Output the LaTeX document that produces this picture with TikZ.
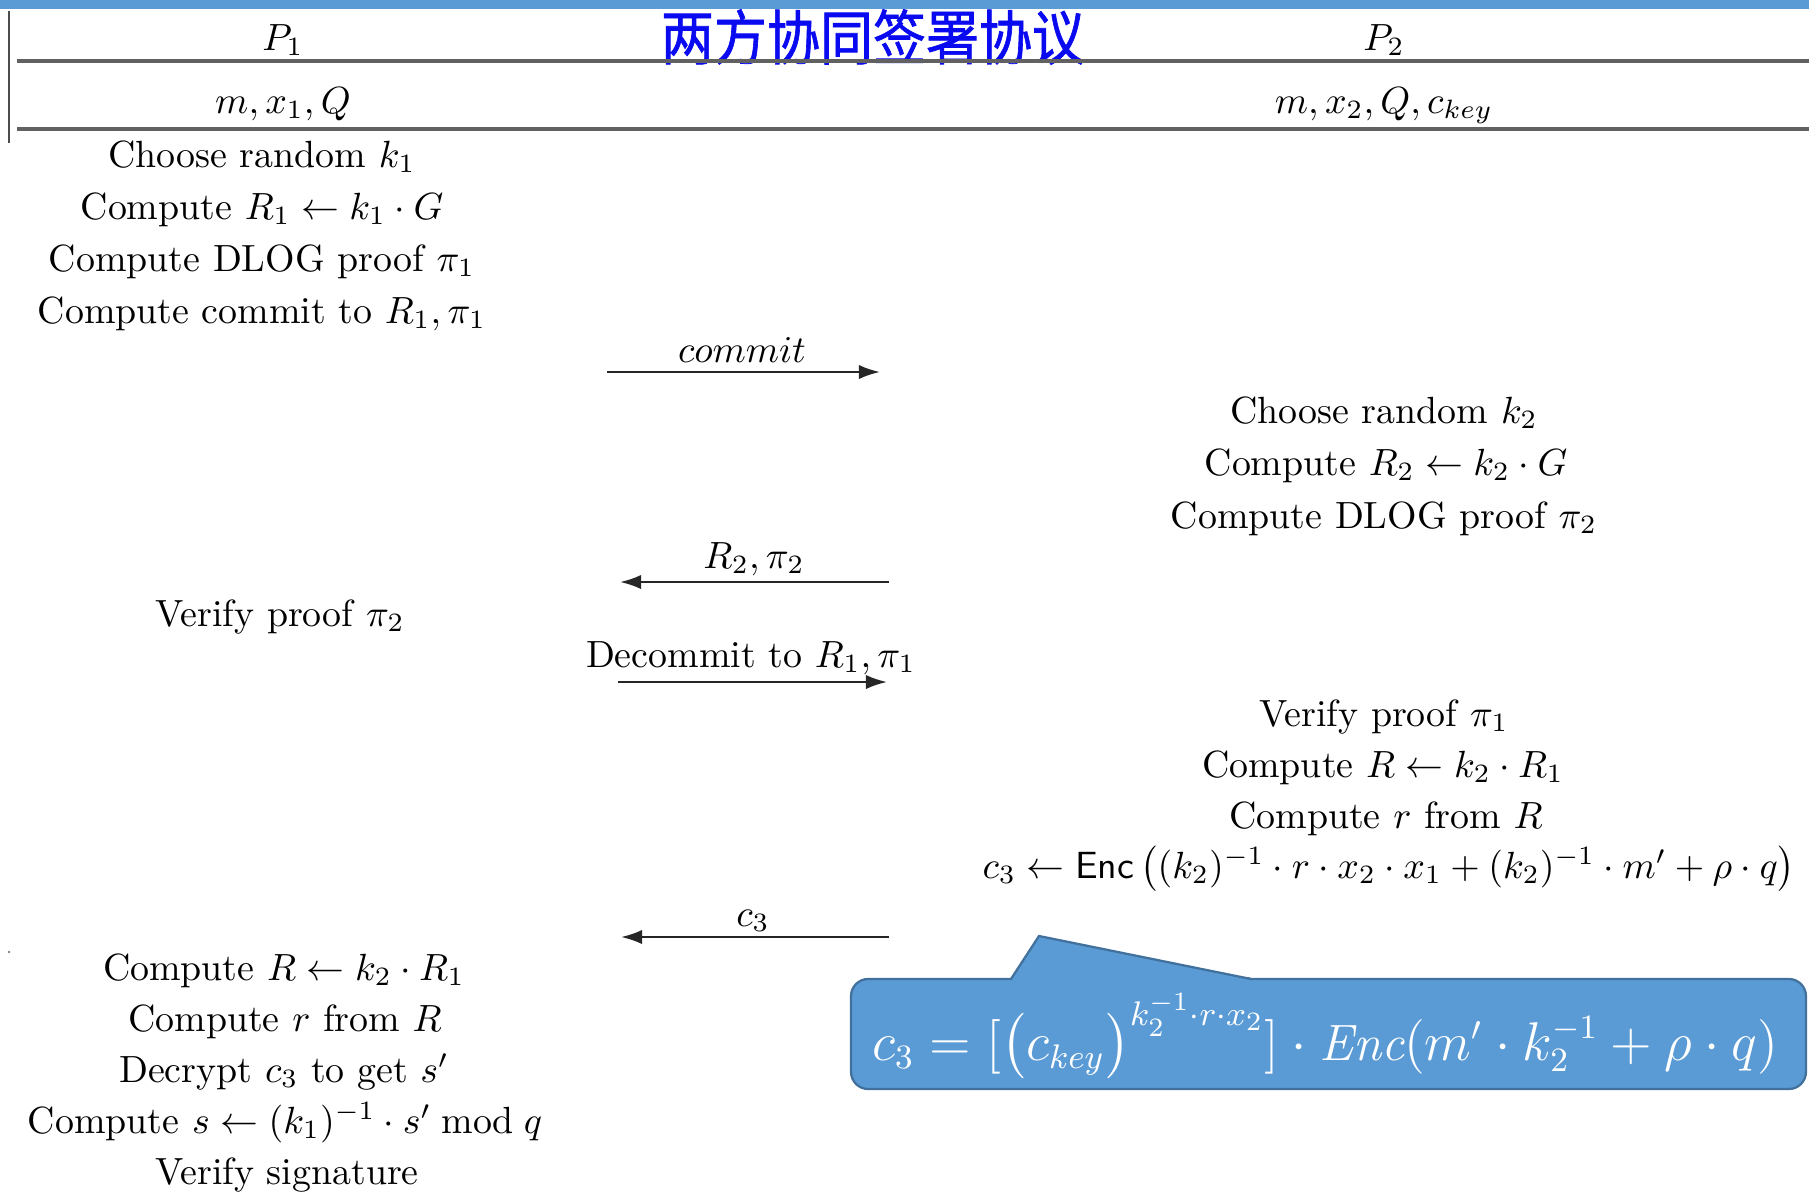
\documentclass[tikz,border=0pt]{standalone}
\usepackage{amsmath}
\usepackage{graphicx}
\usepackage{fontspec}
\usetikzlibrary{arrows.meta}
\newfontfamily\cjk[FakeBold=1.2]{Noto Sans CJK SC}
\definecolor{barblue}{HTML}{5B9BD5}
\definecolor{bubbleedge}{HTML}{41719C}
\definecolor{titleblue}{HTML}{0A0AF0}
\begin{document}
\begin{tikzpicture}[x=0.264pt,y=-0.264pt,
  txt/.style={anchor=base,inner sep=0pt,font=\fontsize{10}{12}\selectfont},
  msg/.style={draw=black!85,line width=0.6pt,-{Latex[length=5.6pt,width=3.8pt]}},
  rulel/.style={draw=black!62,line width=0.9pt},
  bubble/.style={draw=bubbleedge,fill=barblue,line width=0.6pt,rounded corners=4.5pt,
    minimum width=252.1pt,minimum height=29.04pt,inner sep=0pt}]
\useasboundingbox (0,0) rectangle (1809,1197);
\fill[barblue] (0,0) rectangle (1809,9);
\draw[black!70,line width=0.5pt] (9,11) -- (9,143);
\fill[black!50] (9,952) circle (0.35pt);
% header
\node[txt] (p1) at (283,50) {$P_1$};
\node[txt] (p2) at (1384,50) {$P_2$};
\node[font=\cjk\fontsize{14}{16}\selectfont,text=titleblue,inner sep=0pt] (title) at (873,37) {\scalebox{1}[1.12]{两方协同签署协议}};
\draw[rulel] (17,61) -- (1809,61);
\node[txt] (in1) at (283,113) {$m, x_1, Q$};
\node[txt] (in2) at (1384,113) {$m, x_2, Q, c_{key}$};
\draw[rulel] (17,129) -- (1809,129);
% P1 first block
\node[txt] (a1) at (262,167) {Choose random $k_1$};
\node[txt] (a2) at (262,219) {Compute $R_1 \leftarrow k_1\cdot G$};
\node[txt] (a3) at (262,271) {Compute DLOG proof $\pi_1$};
\node[txt] (a4) at (262,323) {Compute commit to $R_1,\pi_1$};
% commit
\coordinate (m1s) at (607,372);
\coordinate (m1e) at (880,372);
\node[txt] (m1l) at (742,362) {$commit$};
\draw[msg] (m1s) -- (m1e);
% P2 first block
\node[txt] (b1) at (1384,423) {Choose random $k_2$};
\node[txt] (b2) at (1386,475) {Compute $R_2 \leftarrow k_2\cdot G$};
\node[txt] (b3) at (1384,528) {Compute DLOG proof $\pi_2$};
% R2 pi2
\coordinate (m2s) at (889,582);
\coordinate (m2e) at (620,582);
\node[txt] (m2l) at (754,568) {$R_2,\pi_2$};
\draw[msg] (m2s) -- (m2e);
\node[txt] (a5) at (280,626) {Verify proof $\pi_2$};
% decommit
\coordinate (m3s) at (618,682);
\coordinate (m3e) at (887,682);
\node[txt] (m3l) at (751,667) {Decommit to $R_1,\pi_1$};
\draw[msg] (m3s) -- (m3e);
% P2 second block
\node[txt] (b4) at (1384,726) {Verify proof $\pi_1$};
\node[txt] (b5) at (1383,777) {Compute $R \leftarrow k_2\cdot R_1$};
\node[txt] (b6) at (1386,828) {Compute $r$ from $R$};
\node[txt] (b7) at (1389,878) {$c_3 \leftarrow \mathsf{Enc}\,\bigl((k_2)^{-1}\cdot r\cdot x_2\cdot x_1 + (k_2)^{-1}\cdot m' + \rho\cdot q\bigr)$};
% c3
\coordinate (m4s) at (889,937);
\coordinate (m4e) at (621,937);
\node[txt] (m4l) at (753,926) {$c_3$};
\draw[msg] (m4s) -- (m4e);
% P1 final block
\node[txt] (a6) at (284,980) {Compute $R \leftarrow k_2\cdot R_1$};
\node[txt] (a7) at (285,1031) {Compute $r$ from $R$};
\node[txt] (a8) at (284,1082) {Decrypt $c_3$ to get $s'$};
\node[txt] (a9) at (285,1133) {Compute $s \leftarrow (k_1)^{-1}\cdot s' \bmod q$};
\node[txt] (a10) at (287,1184) {Verify signature};
% callout
\node[bubble] (callout) at (1328.5,1034) {};
\coordinate (pl) at (1011,979);
\coordinate (pt) at (1039,936);
\coordinate (pr) at (1251,979);
\fill[barblue] (pl) -- (pt) -- (pr) -- cycle;
\fill[barblue] (1012,976.5) rectangle (1250,981.5);
\draw[bubbleedge,line width=0.6pt,line join=miter] (pl) -- (pt) -- (pr);
\node[anchor=base,inner sep=0pt,text=white,font=\fontsize{13.5}{16}\selectfont] (formula) at (1325,1060)
  {$c_3=[\bigl(c_{key}\bigr)^{k_2^{-1}\cdot r\cdot x_2}]\cdot \mathit{Enc}(m'\cdot k_2^{-1}+\rho\cdot q)$};
\end{tikzpicture}
\end{document}
